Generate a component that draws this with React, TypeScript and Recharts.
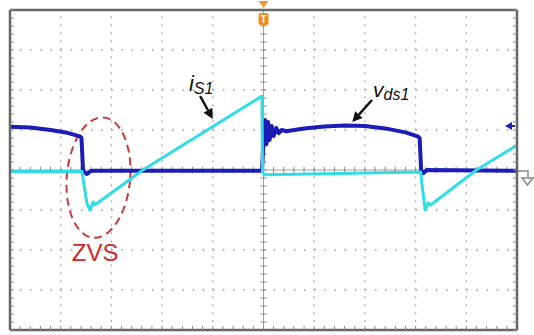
import { LineChart, Line, XAxis, YAxis, ReferenceLine, ReferenceDot, ReferenceArea } from 'recharts';

// time in divisions (0..10), amplitude in divisions (-4..4)
const vdsT = [0, 0.4, 0.8, 1.1, 1.38, 1.41, 1.44, 1.47, 1.52, 1.6, 3.0, 4.97, 5.0, 5.03, 5.06, 5.09, 5.12, 5.16, 5.2, 5.25, 5.3, 5.36, 5.45, 5.8, 6.2, 6.6, 7.0, 7.4, 7.8, 8.04, 8.08, 8.11, 8.15, 8.22, 10];
const vdsV = [1.08, 1.06, 1.0, 0.94, 0.84, 0.8, 0.0, -0.06, -0.1, -0.02, -0.02, -0.02, 0.7, 1.25, 0.65, 1.2, 0.75, 1.1, 0.85, 1.05, 0.92, 1.0, 0.97, 1.04, 1.09, 1.11, 1.1, 1.04, 0.94, 0.84, 0.8, -0.02, -0.08, 0.0, -0.02];

const isT = [-0.1, 1.42, 1.45, 1.52, 1.58, 1.64, 1.68, 2.62, 4.97, 4.98, 5.02, 6.5, 8.1, 8.13, 8.19, 8.25, 8.29, 9.2, 10];
const isV = [-0.04, -0.04, -0.3, -0.85, -1.0, -0.8, -0.87, 0.0, 1.85, -0.05, -0.12, -0.09, -0.05, -0.4, -1.0, -0.82, -0.88, 0.0, 0.62];

const gridX = [1, 2, 3, 4, 6, 7, 8, 9];
const gridY = [-3, -2, -1, 1, 2, 3];
const minorX = Array.from({ length: 51 }, (_, i) => +(i * 0.2).toFixed(1));
const minorY = Array.from({ length: 41 }, (_, i) => +(-4 + i * 0.2).toFixed(1));

const vds = vdsT.map((t, i) => ({ t, v: vdsV[i] }));
const is1 = isT.map((t, i) => ({ t, v: isV[i] }));

const FONT = '"Liberation Sans", Arial, sans-serif';

function Arrow(p: any) {
  const { x1, y1, x2, y2 } = p;
  const a = Math.atan2(y2 - y1, x2 - x1);
  const L = 10;
  const W = 5;
  const bx = x2 - L * Math.cos(a);
  const by = y2 - L * Math.sin(a);
  const nx = -Math.sin(a) * W;
  const ny = Math.cos(a) * W;
  return (
    <g>
      <line x1={x1} y1={y1} x2={bx} y2={by} stroke="#111" strokeWidth={2.5} />
      <polygon points={`${x2},${y2} ${bx + nx},${by + ny} ${bx - nx},${by - ny}`} fill="#111" />
    </g>
  );
}

const axisProps = {
  type: 'number' as const,
  mirror: true,
  tickSize: 4,
  tickFormatter: () => '',
  axisLine: { stroke: '#666', strokeWidth: 2.5 },
  tickLine: { stroke: '#8a8a8a' },
  allowDataOverflow: true,
};

export default function App() {
  return (
    <div style={{ position: 'absolute', left: 0, top: 0, width: 534, height: 335, background: '#fff' }}>
      <LineChart width={534} height={335} margin={{ top: 10, right: 17, bottom: 5, left: 10 }}>
        <XAxis dataKey="t" domain={[0, 10]} ticks={minorX} {...axisProps} />
        <XAxis xAxisId="top" orientation="top" domain={[0, 10]} ticks={minorX} {...axisProps} />
        <YAxis domain={[-4, 4]} ticks={minorY} {...axisProps} />
        <YAxis yAxisId="r" orientation="right" domain={[-4, 4]} ticks={minorY} {...axisProps} />

        {gridX.map((x) => (
          <ReferenceLine key={'gx' + x} x={x} stroke="#9a9a9a" strokeWidth={1.3} strokeDasharray="1.5 6.5" />
        ))}
        {gridY.map((y) => (
          <ReferenceLine key={'gy' + y} y={y} stroke="#9a9a9a" strokeWidth={1.3} strokeDasharray="1.5 8.64" />
        ))}
        <ReferenceLine x={5} stroke="#a0a0a0" strokeWidth={1} />
        <ReferenceLine y={0} stroke="#a0a0a0" strokeWidth={1} />
        {minorY.map((y) => (
          <ReferenceLine key={'cy' + y} segment={[{ x: 4.94, y }, { x: 5.06, y }]} stroke="#8a8a8a" strokeWidth={1} />
        ))}
        {minorX.map((x) => (
          <ReferenceLine key={'cx' + x} segment={[{ x, y: -0.08 }, { x, y: 0.08 }]} stroke="#8a8a8a" strokeWidth={1} />
        ))}

        <Line data={vds} dataKey="v" type="linear" stroke="#1c1cb8" strokeWidth={4} strokeLinejoin="round" dot={false} isAnimationActive={false} />
        <Line data={is1} dataKey="v" type="linear" stroke="#30dde6" strokeWidth={3} strokeLinejoin="round" dot={false} isAnimationActive={false} />

        <ReferenceArea
          x1={1.12}
          x2={2.37}
          y1={-1.7}
          y2={1.32}
          shape={(p: any) => (
            <ellipse
              cx={p.x + p.width / 2}
              cy={p.y + p.height / 2}
              rx={p.width / 2}
              ry={p.height / 2}
              transform={`rotate(5 ${p.x + p.width / 2} ${p.y + p.height / 2})`}
              fill="none"
              stroke="#c83a3a"
              strokeWidth={2}
              strokeDasharray="8 5"
            />
          )}
        />
        <ReferenceDot
          x={1.68}
          y={-2.28}
          shape={(p: any) => (
            <text x={p.cx} y={p.cy} textAnchor="middle" fontSize={24} fill="#cc2a2a" fontFamily={FONT}>
              ZVS
            </text>
          )}
        />

        <ReferenceLine segment={[{ x: 3.75, y: 1.85 }, { x: 4.0, y: 1.275 }]} shape={Arrow} />
        <ReferenceLine segment={[{ x: 7.14, y: 1.75 }, { x: 6.75, y: 1.2 }]} shape={Arrow} />
        <ReferenceDot
          x={3.53}
          y={1.975}
          shape={(p: any) => (
            <text x={p.cx} y={p.cy} fontSize={22} fill="#111" fontStyle="italic" fontFamily={FONT}>
              i
              <tspan fontSize={16} dy={3}>S1</tspan>
            </text>
          )}
        />
        <ReferenceDot
          x={7.16}
          y={1.825}
          shape={(p: any) => (
            <text x={p.cx} y={p.cy} fontSize={21} fill="#111" fontStyle="italic" fontFamily={FONT}>
              v
              <tspan fontSize={16} dy={3}>ds1</tspan>
            </text>
          )}
        />

        <ReferenceDot
          x={5}
          y={4}
          shape={(p: any) => (
            <g>
              <path d={`M${p.cx - 5},${p.cy - 9} H${p.cx + 5} L${p.cx},${p.cy - 2} Z`} fill="#f0962a" />
              <rect x={p.cx - 5} y={p.cy + 3} width={10} height={12} rx={2} fill="#ee8a1e" />
              <text x={p.cx} y={p.cy + 13} textAnchor="middle" fontSize={10} fontWeight="bold" fill="#fff" fontFamily={FONT}>
                T
              </text>
            </g>
          )}
        />
        <ReferenceDot
          x={10}
          y={1.1}
          shape={(p: any) => (
            <g>
              <polygon points={`${p.cx - 12},${p.cy} ${p.cx - 5},${p.cy - 4} ${p.cx - 5},${p.cy + 4}`} fill="#2424b0" />
              <line x1={p.cx - 6} y1={p.cy} x2={p.cx - 2} y2={p.cy} stroke="#2424b0" strokeWidth={2} />
            </g>
          )}
        />
        <ReferenceDot
          x={10}
          y={0}
          shape={(p: any) => (
            <g fill="none" stroke="#888" strokeWidth={1.5}>
              <path d={`M${p.cx + 1},${p.cy + 1} H${p.cx + 11} V${p.cy + 7}`} />
              <path d={`M${p.cx + 5},${p.cy + 8} H${p.cx + 16} L${p.cx + 10.5},${p.cy + 15} Z`} />
            </g>
          )}
        />
      </LineChart>
    </div>
  );
}
